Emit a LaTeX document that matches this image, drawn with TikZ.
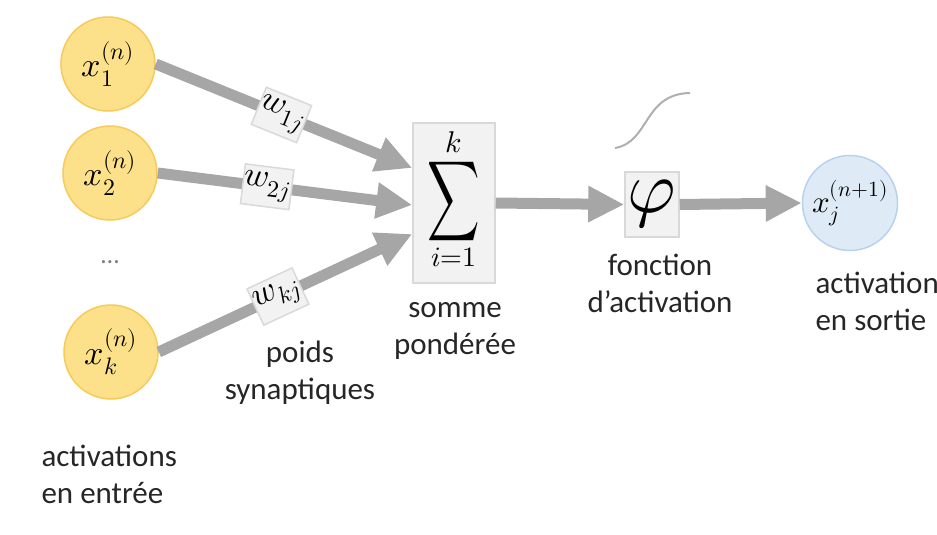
\documentclass[tikz,border=0pt]{standalone}
\usepackage{fontspec}
\usepackage{unicode-math}
\setmainfont{Carlito}
\setmathfont{Latin Modern Math}
\usetikzlibrary{arrows.meta}

\definecolor{inyellow}{HTML}{FCE08A}
\definecolor{inyellowline}{HTML}{F7CB5A}
\definecolor{outblue}{HTML}{DEEBF7}
\definecolor{outblueline}{HTML}{B7D2EC}
\definecolor{boxfill}{HTML}{F2F2F2}
\definecolor{boxline}{HTML}{D9D9D9}
\definecolor{conngray}{HTML}{A6A6A6}
\definecolor{txtdark}{HTML}{262626}

\tikzset{
    neuronin/.style={circle, fill=inyellow, draw=inyellowline, line width=1.5pt, minimum size=94pt, inner sep=0pt, font=\fontsize{34}{38}\selectfont},
    neuronout/.style={circle, fill=outblue, draw=outblueline, line width=1.5pt, minimum size=95pt, inner sep=0pt, font=\fontsize{31}{35}\selectfont},
    weightbox/.style={rectangle, fill=boxfill, draw=boxline, line width=1.5pt, minimum width=48pt, minimum height=40pt, inner sep=1pt, font=\fontsize{34}{38}\selectfont},
    graybox/.style={rectangle, fill=boxfill, draw=boxline, line width=1.5pt},
    conn/.style={draw=conngray, line width=11pt, -{Triangle[length=36pt,width=34pt]}},
    caption/.style={text=txtdark, align=center, font=\fontsize{31}{37}\selectfont},
}

\begin{document}
\begin{tikzpicture}[x=1pt, y=-1pt]
        \useasboundingbox (0,0) rectangle (937,535);

        \node[neuronin] (x1) at (108,64) {$x_1^{(n)}$};
        \node[neuronin] (x2) at (110,173) {$x_2^{(n)}$};
        \node[neuronin] (xk) at (111,352) {$x_k^{(n)}$};
        \node[text=gray, font=\fontsize{26}{30}\selectfont] (dots) at (110,262) {\dots};

        \node[graybox, minimum width=82pt, minimum height=160pt] (sum) at (454,203) {};
        \node[font=\fontsize{30}{34}\selectfont] (sumtop) at (454,142) {$k$};
        \node[font=\fontsize{56}{60}\selectfont] (sigma) at (454,201) {\scalebox{0.65}[1]{$\displaystyle\sum$}};
        \node[font=\fontsize{28}{32}\selectfont] (sumbot) at (454,257) {$i{=}1$};

        \node[graybox, minimum width=54pt, minimum height=65pt, inner sep=0pt, font=\fontsize{74}{78}\selectfont] (phi) at (652,204.5) {$\varphi$};
        \node[neuronout] (out) at (850,203) {$x_j^{(n+1)}$};

        \draw[conn] (x1.east) -- node[weightbox, sloped, pos=0.49] (w1) {$w_{1j}$} ([yshift=35pt]sum.west);
        \draw[conn] (x2.east) -- node[weightbox, sloped, pos=0.43] (w2) {$w_{2j}$} ([yshift=-2pt]sum.west);
        \draw[conn] (xk.east) -- node[weightbox, sloped, pos=0.47] (wk) {$w_{kj}$} ([yshift=-31pt]sum.west);

        \draw[conn] (sum.east) -- (phi.west);
        \draw[conn] (phi.east) -- (out.west);

        \draw[conngray!90, line width=2pt] (615,148) .. controls (650,142) and (643,94) .. (690,93);

        \node[caption, align=left, anchor=west] (inlbl) at (38,474) {activations\\en entrée};
        \node[caption] (wlbl) at (300,373) {poids\\synaptiques};
        \node[caption] (sumlbl) at (455,331) {somme\\pondérée};
        \node[caption] (philbl) at (660,283) {fonction\\d’activation};
        \node[caption, align=left, anchor=west] (outlbl) at (812,301) {activations\\en sortie};
\end{tikzpicture}
\end{document}
